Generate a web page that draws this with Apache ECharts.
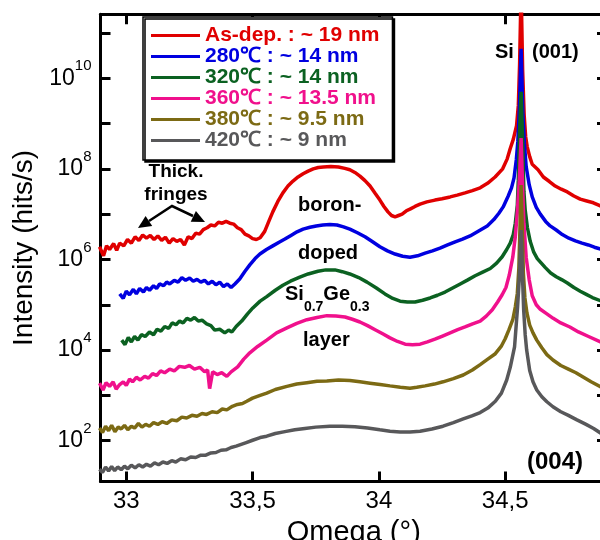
<!DOCTYPE html>
<html>
<head>
<meta charset="utf-8">
<script src="https://cdn.jsdelivr.net/npm/echarts@6/dist/echarts.min.js"></script>
<style>
  html, body { margin: 0; background: #fff; }
  #main { width: 600px; height: 540px; }
</style>
</head>
<body>
<div id="main"></div>
<script>
// omega (deg) and log10 of intensity (hits/s)
var asDepOmega = [32.894, 32.910, 32.922, 32.934, 32.950, 32.962, 32.974, 32.990, 33.005, 33.020, 33.035, 33.050, 33.065, 33.080, 33.095, 33.110, 33.125, 33.140, 33.155, 33.170, 33.185, 33.200, 33.215, 33.230, 33.245, 33.260, 33.275, 33.290, 33.305, 33.320, 33.335, 33.350, 33.365, 33.380, 33.395, 33.410, 33.425, 33.440, 33.455, 33.470, 33.485, 33.500, 33.515, 33.530, 33.548, 33.565, 33.580, 33.600, 33.620, 33.640, 33.660, 33.680, 33.700, 33.720, 33.740, 33.760, 33.780, 33.810, 33.840, 33.865, 33.885, 33.905, 33.925, 33.945, 33.965, 33.985, 34.004, 34.020, 34.036, 34.050, 34.064, 34.078, 34.092, 34.110, 34.123, 34.143, 34.163, 34.190, 34.222, 34.250, 34.282, 34.310, 34.341, 34.370, 34.401, 34.430, 34.460, 34.490, 34.508, 34.520, 34.532, 34.545, 34.552, 34.557, 34.563, 34.569, 34.575, 34.581, 34.587, 34.597, 34.607, 34.630, 34.651, 34.675, 34.698, 34.722, 34.746, 34.772, 34.797, 34.823, 34.849, 34.877, 34.905]
var asDepLogI = [6.28, 6.08, 6.30, 6.22, 6.35, 6.20, 6.36, 6.30, 6.44, 6.36, 6.50, 6.42, 6.54, 6.47, 6.53, 6.44, 6.52, 6.42, 6.49, 6.36, 6.46, 6.40, 6.44, 6.32, 6.50, 6.46, 6.58, 6.56, 6.66, 6.70, 6.76, 6.74, 6.82, 6.80, 6.84, 6.80, 6.78, 6.70, 6.66, 6.56, 6.52, 6.46, 6.44, 6.48, 6.62, 6.85, 7.05, 7.28, 7.47, 7.62, 7.73, 7.82, 7.89, 7.95, 8.00, 8.03, 8.04, 8.05, 8.04, 8.01, 7.98, 7.92, 7.84, 7.74, 7.62, 7.46, 7.31, 7.17, 7.05, 6.97, 6.94, 6.97, 7.00, 7.08, 7.11, 7.17, 7.22, 7.27, 7.31, 7.34, 7.38, 7.42, 7.47, 7.52, 7.58, 7.68, 7.82, 8.00, 8.22, 8.45, 8.65, 8.95, 9.40, 10.30, 12.0, 10.18, 9.19, 8.71, 8.49, 8.27, 8.10, 7.98, 7.82, 7.72, 7.62, 7.55, 7.49, 7.40, 7.33, 7.29, 7.25, 7.18, 7.13]

var t280Omega = [32.974, 32.988, 33.000, 33.013, 33.028, 33.040, 33.053, 33.068, 33.080, 33.092, 33.108, 33.120, 33.132, 33.148, 33.160, 33.172, 33.190, 33.205, 33.220, 33.235, 33.251, 33.265, 33.280, 33.295, 33.310, 33.325, 33.340, 33.355, 33.370, 33.385, 33.400, 33.415, 33.430, 33.449, 33.470, 33.489, 33.510, 33.529, 33.555, 33.580, 33.605, 33.628, 33.652, 33.676, 33.700, 33.727, 33.752, 33.778, 33.806, 33.834, 33.860, 33.885, 33.915, 33.945, 33.975, 34.004, 34.034, 34.064, 34.094, 34.123, 34.153, 34.183, 34.212, 34.242, 34.272, 34.302, 34.331, 34.361, 34.395, 34.429, 34.455, 34.475, 34.492, 34.512, 34.525, 34.535, 34.544, 34.550, 34.556, 34.563, 34.570, 34.576, 34.583, 34.595, 34.607, 34.623, 34.639, 34.660, 34.678, 34.702, 34.726, 34.752, 34.778, 34.804, 34.829, 34.853, 34.877, 34.905]
var t280LogI = [5.24, 5.14, 5.30, 5.22, 5.34, 5.24, 5.36, 5.28, 5.38, 5.32, 5.42, 5.36, 5.46, 5.42, 5.50, 5.46, 5.54, 5.50, 5.60, 5.54, 5.59, 5.52, 5.56, 5.50, 5.54, 5.46, 5.52, 5.44, 5.50, 5.40, 5.46, 5.38, 5.46, 5.57, 5.74, 5.88, 6.02, 6.12, 6.22, 6.30, 6.38, 6.45, 6.53, 6.61, 6.67, 6.71, 6.74, 6.76, 6.77, 6.76, 6.72, 6.67, 6.59, 6.50, 6.39, 6.28, 6.19, 6.12, 6.07, 6.05, 6.08, 6.14, 6.19, 6.25, 6.32, 6.39, 6.45, 6.52, 6.63, 6.74, 6.88, 7.02, 7.16, 7.40, 7.58, 7.80, 8.20, 8.60, 9.30, 10.65, 9.20, 8.55, 8.05, 7.65, 7.38, 7.15, 7.00, 6.84, 6.74, 6.65, 6.55, 6.47, 6.41, 6.36, 6.32, 6.27, 6.23, 6.18]

var t320Omega = [32.982, 32.995, 33.008, 33.020, 33.033, 33.046, 33.060, 33.075, 33.092, 33.108, 33.122, 33.137, 33.152, 33.168, 33.182, 33.197, 33.211, 33.225, 33.240, 33.255, 33.270, 33.285, 33.300, 33.318, 33.335, 33.350, 33.370, 33.390, 33.405, 33.418, 33.435, 33.457, 33.480, 33.501, 33.530, 33.556, 33.590, 33.620, 33.650, 33.687, 33.720, 33.759, 33.790, 33.826, 33.855, 33.885, 33.920, 33.953, 33.990, 34.024, 34.055, 34.084, 34.113, 34.143, 34.173, 34.203, 34.232, 34.262, 34.292, 34.322, 34.352, 34.381, 34.411, 34.441, 34.466, 34.488, 34.506, 34.520, 34.532, 34.540, 34.548, 34.552, 34.557, 34.563, 34.569, 34.574, 34.579, 34.588, 34.599, 34.613, 34.627, 34.643, 34.659, 34.680, 34.702, 34.725, 34.746, 34.772, 34.797, 34.821, 34.845, 34.877, 34.905]
var t320LogI = [4.22, 4.12, 4.28, 4.18, 4.30, 4.22, 4.34, 4.30, 4.40, 4.34, 4.46, 4.42, 4.52, 4.48, 4.60, 4.56, 4.64, 4.60, 4.70, 4.66, 4.72, 4.64, 4.66, 4.58, 4.54, 4.44, 4.46, 4.38, 4.44, 4.40, 4.52, 4.64, 4.80, 4.93, 5.08, 5.18, 5.32, 5.43, 5.52, 5.61, 5.68, 5.74, 5.77, 5.77, 5.73, 5.68, 5.60, 5.50, 5.37, 5.24, 5.14, 5.08, 5.06, 5.06, 5.10, 5.15, 5.21, 5.28, 5.37, 5.46, 5.55, 5.64, 5.72, 5.80, 5.92, 6.06, 6.22, 6.36, 6.55, 6.80, 7.20, 7.75, 8.86, 9.70, 8.64, 7.50, 7.10, 6.70, 6.40, 6.16, 6.02, 5.92, 5.82, 5.70, 5.62, 5.55, 5.48, 5.38, 5.30, 5.23, 5.16, 5.09, 5.03]

var t360Omega = [32.894, 32.908, 32.920, 32.934, 32.948, 32.960, 32.974, 32.988, 33.000, 33.013, 33.025, 33.040, 33.055, 33.073, 33.088, 33.104, 33.120, 33.136, 33.152, 33.172, 33.190, 33.210, 33.231, 33.250, 33.270, 33.291, 33.310, 33.322, 33.330, 33.342, 33.360, 33.378, 33.398, 33.415, 33.441, 33.465, 33.489, 33.520, 33.556, 33.595, 33.636, 33.675, 33.715, 33.755, 33.794, 33.830, 33.866, 33.895, 33.925, 33.955, 33.985, 34.015, 34.044, 34.074, 34.104, 34.133, 34.163, 34.192, 34.222, 34.252, 34.282, 34.312, 34.341, 34.371, 34.401, 34.425, 34.449, 34.470, 34.488, 34.503, 34.516, 34.530, 34.540, 34.548, 34.556, 34.563, 34.569, 34.574, 34.583, 34.595, 34.607, 34.623, 34.639, 34.665, 34.690, 34.720, 34.756, 34.790, 34.830, 34.877, 34.905]
var t360LogI = [3.27, 3.12, 3.28, 3.20, 3.30, 3.14, 3.24, 3.30, 3.22, 3.36, 3.30, 3.40, 3.34, 3.42, 3.38, 3.48, 3.44, 3.54, 3.50, 3.58, 3.54, 3.64, 3.62, 3.66, 3.58, 3.62, 3.52, 3.56, 3.15, 3.52, 3.46, 3.50, 3.42, 3.52, 3.63, 3.80, 3.94, 4.08, 4.22, 4.38, 4.49, 4.59, 4.67, 4.72, 4.76, 4.75, 4.73, 4.68, 4.62, 4.54, 4.45, 4.36, 4.27, 4.19, 4.13, 4.12, 4.13, 4.18, 4.24, 4.31, 4.38, 4.45, 4.51, 4.58, 4.64, 4.75, 4.89, 5.06, 5.22, 5.38, 5.65, 6.05, 6.50, 7.05, 7.75, 8.68, 7.60, 6.80, 6.05, 5.55, 5.20, 5.00, 4.90, 4.80, 4.70, 4.60, 4.51, 4.40, 4.30, 4.18, 4.13]

var t380Omega = [32.894, 32.906, 32.918, 32.930, 32.942, 32.955, 32.968, 32.980, 32.993, 33.006, 33.020, 33.033, 33.048, 33.062, 33.077, 33.092, 33.108, 33.125, 33.142, 33.160, 33.180, 33.200, 33.220, 33.239, 33.260, 33.280, 33.300, 33.318, 33.340, 33.360, 33.380, 33.398, 33.420, 33.440, 33.460, 33.477, 33.500, 33.530, 33.556, 33.590, 33.636, 33.675, 33.715, 33.755, 33.794, 33.840, 33.885, 33.925, 33.965, 34.005, 34.044, 34.085, 34.123, 34.150, 34.183, 34.220, 34.254, 34.295, 34.334, 34.370, 34.401, 34.431, 34.461, 34.484, 34.500, 34.515, 34.530, 34.540, 34.548, 34.554, 34.558, 34.563, 34.568, 34.572, 34.578, 34.586, 34.597, 34.610, 34.625, 34.645, 34.665, 34.689, 34.720, 34.750, 34.780, 34.810, 34.840, 34.877, 34.905]
var t380LogI = [2.28, 2.18, 2.32, 2.22, 2.34, 2.20, 2.30, 2.26, 2.34, 2.24, 2.32, 2.28, 2.38, 2.30, 2.36, 2.32, 2.40, 2.36, 2.42, 2.38, 2.46, 2.44, 2.52, 2.50, 2.56, 2.54, 2.60, 2.58, 2.64, 2.62, 2.70, 2.68, 2.76, 2.80, 2.82, 2.87, 2.94, 3.00, 3.05, 3.13, 3.20, 3.25, 3.28, 3.31, 3.32, 3.34, 3.33, 3.30, 3.27, 3.24, 3.21, 3.18, 3.16, 3.18, 3.21, 3.25, 3.30, 3.37, 3.45, 3.56, 3.68, 3.80, 3.92, 4.08, 4.25, 4.45, 4.67, 4.95, 5.25, 5.80, 6.60, 7.64, 6.60, 5.70, 5.15, 4.82, 4.55, 4.38, 4.22, 4.05, 3.90, 3.78, 3.66, 3.58, 3.50, 3.40, 3.30, 3.19, 3.14]

var t420Omega = [32.894, 32.906, 32.918, 32.930, 32.942, 32.954, 32.966, 32.980, 32.993, 33.006, 33.020, 33.035, 33.050, 33.065, 33.080, 33.096, 33.112, 33.128, 33.145, 33.162, 33.180, 33.196, 33.215, 33.235, 33.255, 33.275, 33.295, 33.315, 33.335, 33.355, 33.375, 33.395, 33.415, 33.435, 33.455, 33.475, 33.500, 33.530, 33.556, 33.590, 33.628, 33.667, 33.707, 33.750, 33.806, 33.855, 33.905, 33.955, 34.004, 34.044, 34.084, 34.123, 34.163, 34.210, 34.254, 34.295, 34.334, 34.368, 34.401, 34.431, 34.461, 34.485, 34.506, 34.520, 34.537, 34.549, 34.556, 34.563, 34.568, 34.573, 34.579, 34.585, 34.597, 34.610, 34.625, 34.645, 34.665, 34.689, 34.720, 34.750, 34.784, 34.820, 34.850, 34.877, 34.905]
var t420LogI = [1.37, 1.30, 1.42, 1.33, 1.43, 1.34, 1.42, 1.36, 1.44, 1.38, 1.46, 1.40, 1.47, 1.42, 1.48, 1.44, 1.51, 1.47, 1.53, 1.50, 1.56, 1.53, 1.60, 1.58, 1.64, 1.63, 1.68, 1.68, 1.73, 1.74, 1.79, 1.80, 1.85, 1.88, 1.92, 1.96, 2.01, 2.07, 2.10, 2.16, 2.20, 2.24, 2.27, 2.30, 2.32, 2.32, 2.31, 2.28, 2.24, 2.21, 2.19, 2.19, 2.21, 2.26, 2.32, 2.40, 2.48, 2.55, 2.62, 2.72, 2.87, 3.05, 3.34, 3.62, 4.07, 4.95, 5.60, 6.65, 5.70, 4.90, 4.35, 4.00, 3.55, 3.30, 3.12, 2.97, 2.86, 2.75, 2.64, 2.56, 2.46, 2.36, 2.27, 2.17, 2.12]

var sampleNames = ['As-dep. : ~ 19 nm', '280℃ : ~ 14 nm', '320℃ : ~ 14 nm', '360℃ : ~ 13.5 nm', '380℃ : ~ 9.5 nm', '420℃ : ~ 9 nm']
var xTickValues = [33, 33.5, 34, 34.5]
var yLabelExps = [2, 4, 6, 8, 10]
var yTickExps = [2, 3, 4, 5, 6, 7, 8, 9, 10, 11]

var colors = ['#e00000', '#0000e0', '#0b6121', '#f0108c', '#7c6a14', '#58585a']
var font = "'Liberation Sans', Arial, sans-serif"

var curves = [
  [asDepOmega, asDepLogI],
  [t280Omega, t280LogI],
  [t320Omega, t320LogI],
  [t360Omega, t360LogI],
  [t380Omega, t380LogI],
  [t420Omega, t420LogI],
]

function pairs(xs, ys) {
  return xs.map(function (x, i) {
    return [x, ys[i]]
  })
}

var myChart = echarts.init(document.getElementById('main'))

var series = curves.map(function (c, i) {
  return {
    name: sampleNames[i],
    type: 'line',
    data: pairs(c[0], c[1]),
    showSymbol: false,
    symbol: 'none',
    clip: true,
    lineStyle: { color: colors[i], width: 3.5 },
    itemStyle: { color: colors[i] },
    z: 2 + i,
  }
})

var axisLineStyle = { color: '#000', width: 3 }
var tickStyle = { color: '#000', width: 3 }

var option = {
  animation: false,
  backgroundColor: '#fff',
  grid: {
    left: 100.5,
    right: -7,
    top: 14.3,
    bottom: 58.5,
    containLabel: false,
    outerBoundsMode: 'none',
  },
  legend: {
    orient: 'vertical',
    left: 143,
    top: 17,
    padding: [8, 13, 9, 8],
    itemGap: 0,
    itemWidth: 49,
    itemHeight: 3,
    icon: 'rect',
    backgroundColor: '#fff',
    borderColor: '#000',
    borderWidth: 1.5,
    shadowColor: '#000',
    shadowBlur: 0,
    shadowOffsetX: 2,
    shadowOffsetY: 2,
    selectedMode: false,
    textStyle: {
      fontFamily: font,
      fontWeight: 'bold',
      fontSize: 21,
      lineHeight: 20,
    },
    data: sampleNames.map(function (n, i) {
      return { name: n, textStyle: { color: colors[i] } }
    }),
    z: 10,
  },
  xAxis: [
    {
      type: 'value',
      min: 32.898,
      max: 34.903,
      position: 'bottom',
      name: 'Omega (°)',
      nameLocation: 'middle',
      nameGap: 28,
      nameTextStyle: { fontFamily: font, fontSize: 29, color: '#000' },
      axisLine: { show: true, onZero: false, lineStyle: axisLineStyle },
      axisTick: { show: true, inside: true, length: 10, lineStyle: tickStyle, customValues: xTickValues },
      axisLabel: {
        show: true,
        margin: 8,
        fontFamily: font,
        fontSize: 24,
        color: '#000',
        customValues: xTickValues,
        formatter: function (v) {
          return String(v).replace('.', ',')
        },
      },
      splitLine: { show: false },
    },
    {
      type: 'value',
      min: 32.898,
      max: 34.903,
      position: 'top',
      axisLine: { show: true, onZero: false, lineStyle: axisLineStyle },
      axisTick: { show: true, inside: true, length: 10, lineStyle: tickStyle, customValues: xTickValues },
      axisLabel: { show: false },
      splitLine: { show: false },
    },
  ],
  yAxis: [
    {
      type: 'value',
      min: 1.1,
      max: 11.41,
      position: 'left',
      name: 'Intensity (hits/s)',
      nameLocation: 'middle',
      nameRotate: 90,
      nameGap: 56,
      nameTextStyle: { fontFamily: font, fontSize: 28, color: '#000' },
      axisLine: { show: true, onZero: false, lineStyle: axisLineStyle },
      axisTick: { show: true, inside: true, length: 10, lineStyle: tickStyle, customValues: yTickExps },
      axisLabel: {
        show: true,
        margin: 9,
        color: '#000',
        customValues: yLabelExps,
        formatter: function (v) {
          return '{b|10}{s|' + v + '}'
        },
        rich: {
          b: { fontFamily: font, fontSize: 23, color: '#000' },
          s: { fontFamily: font, fontSize: 15, color: '#000', padding: [0, 0, 24, 0] },
        },
      },
      splitLine: { show: false },
    },
    {
      type: 'value',
      min: 1.1,
      max: 11.41,
      position: 'right',
      axisLine: { show: true, onZero: false, lineStyle: axisLineStyle },
      axisTick: { show: true, inside: true, length: 10, lineStyle: tickStyle, customValues: yTickExps },
      axisLabel: { show: false },
      splitLine: { show: false },
    },
  ],
  graphic: [
    { type: 'text', x: 495, y: 52, style: { text: 'Si', font: 'bold 20px ' + font, fill: '#000', verticalAlign: 'middle' }, z: 20 },
    { type: 'text', x: 532, y: 52, style: { text: '(001)', font: 'bold 20px ' + font, fill: '#000', verticalAlign: 'middle' }, z: 20 },
    { type: 'text', x: 176, y: 172, style: { text: 'Thick.', font: 'bold 19px ' + font, fill: '#000', align: 'center', verticalAlign: 'middle' }, z: 20 },
    { type: 'text', x: 176, y: 195, style: { text: 'fringes', font: 'bold 19px ' + font, fill: '#000', align: 'center', verticalAlign: 'middle' }, z: 20 },
    { type: 'polyline', shape: { points: [[149, 221], [172, 206], [193, 216]] }, style: { stroke: '#000', lineWidth: 2.5, fill: null }, z: 20 },
    { type: 'polygon', shape: { points: [[138, 228], [152.2, 226.0], [145.6, 215.9]] }, style: { fill: '#000' }, z: 20 },
    { type: 'polygon', shape: { points: [[205, 222], [190.7, 221.7], [195.9, 210.9]] }, style: { fill: '#000' }, z: 20 },
    { type: 'text', x: 298, y: 205, style: { text: 'boron-', font: 'bold 20px ' + font, fill: '#000', verticalAlign: 'middle' }, z: 20 },
    { type: 'text', x: 298, y: 253, style: { text: 'doped', font: 'bold 20px ' + font, fill: '#000', verticalAlign: 'middle' }, z: 20 },
    {
      type: 'text',
      x: 285,
      y: 294,
      style: {
        text: '{m|Si}{s|0.7}{m|Ge}{s|0.3}',
        verticalAlign: 'middle',
        rich: {
          m: { font: 'bold 20px ' + font, fill: '#000' },
          s: { font: 'bold 14px ' + font, fill: '#000', padding: [26, 0, 0, 0] },
        },
      },
      z: 20,
    },
    { type: 'text', x: 303, y: 340, style: { text: 'layer', font: 'bold 20px ' + font, fill: '#000', verticalAlign: 'middle' }, z: 20 },
    { type: 'text', x: 527, y: 462, style: { text: '(004)', font: 'bold 24px ' + font, fill: '#000', verticalAlign: 'middle' }, z: 20 },
  ],
  series: series,
}

option && myChart.setOption(option)
</script>
</body>
</html>
